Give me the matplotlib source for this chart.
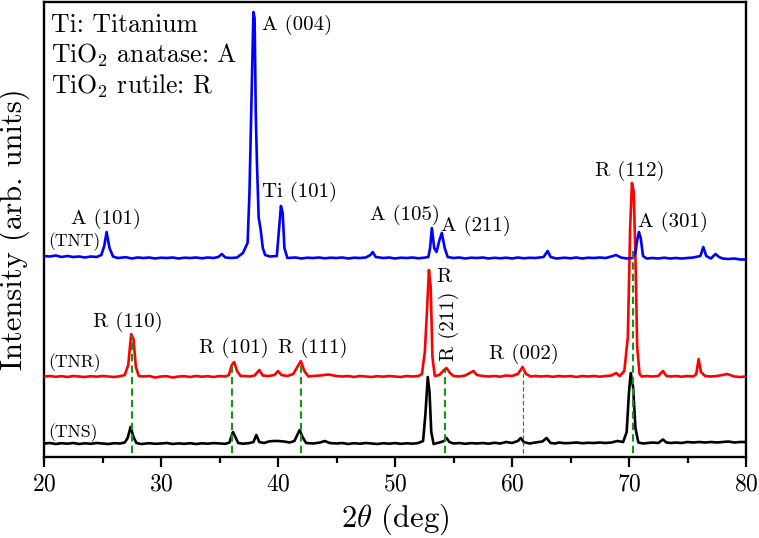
import matplotlib
matplotlib.use("Agg")
import matplotlib.pyplot as plt

plt.rcParams['font.family'] = ['cmr10', 'DejaVu Serif']
plt.rcParams['mathtext.fontset'] = 'cm'
plt.rcParams['axes.unicode_minus'] = False
plt.rcParams['axes.formatter.use_mathtext'] = True

# ---------------- data ----------------
# TNS (black) : 2theta and relative intensity (a.u.)
tns_x = [20.0, 20.5, 21.0, 21.5, 22.0, 22.5, 23.0, 23.5, 24.0, 24.5, 25.0, 25.5, 26.0, 26.5,
         26.9, 27.15, 27.4, 27.65, 27.9, 28.3, 29.0, 29.5, 30.0, 30.5, 31.0, 31.5, 32.0, 32.5,
         33.0, 33.5, 34.0, 34.5, 35.0, 35.5, 35.85, 36.0, 36.15, 36.35, 36.6, 37.0, 37.5,
         37.9, 38.15, 38.4, 38.8, 39.2, 39.6, 40.0, 40.5, 41.0, 41.4, 41.65, 41.85, 42.1,
         42.4, 43.0, 43.6, 44.0, 44.4, 45.0, 45.5, 46.0, 46.5, 47.0, 47.5, 48.0, 48.5, 49.0,
         49.5, 50.0, 50.5, 51.0, 51.5, 52.0, 52.4, 52.6, 52.8, 52.95, 53.1, 53.3, 53.8,
         54.2, 54.4, 54.65, 55.0, 55.5, 56.0, 56.5, 57.0, 57.5, 58.0, 58.5, 59.0, 59.5,
         60.0, 60.5, 60.75, 61.0, 61.5, 62.0, 62.6, 62.95, 63.3, 63.7, 64.0, 64.5, 65.0,
         65.5, 66.0, 66.5, 67.0, 67.5, 68.0, 68.5, 69.0, 69.5, 69.8, 70.0, 70.15, 70.35,
         70.55, 70.8, 71.2, 71.6, 72.0, 72.5, 72.9, 73.2, 73.6, 74.0, 74.5, 75.0, 75.5,
         76.0, 76.5, 77.0, 77.5, 78.0, 78.5, 79.0, 79.5, 80.0]
tns_y = [0.5, 1.0, 0.0, 0.8, 0.3, 1.0, 0.0, 0.7, 0.2, 1.0, 0.5, 0.0, 0.8, 0.5,
         1.5, 6.0, 17.0, 7.0, 1.0, 0.0, 0.8, 0.2, 0.5, 1.0, 0.0, 0.6, 0.2, 0.8,
         0.0, 0.7, 0.3, 0.9, 0.5, 0.2, 1.5, 7.0, 12.0, 7.0, 1.0, 0.3, 0.8,
         2.0, 9.0, 2.0, 1.0, 2.5, 3.0, 3.0, 2.5, 1.5, 3.0, 9.0, 14.0, 7.0,
         1.0, 0.5, 1.5, 3.0, 1.0, 0.5, 1.0, 0.0, 0.8, 0.3, 1.0, 0.5, 0.0, 0.8,
         0.3, 0.9, 0.2, 0.7, 0.3, 1.0, 3.0, 30.0, 67.0, 52.0, 12.0, 0.0, 1.5,
         3.0, 6.0, 2.0, 0.5, 1.0, 0.2, 0.9, 0.5, 1.0, 0.3, 1.2, 0.5, 2.0,
         1.0, 3.0, 6.0, 2.0, 0.5, 1.5, 2.5, 6.0, 1.0, 0.5, 1.5, 0.8, 1.0,
         1.5, 0.8, 1.2, 1.0, 1.5, 1.0, 1.5, 3.0, 2.0, 12.0, 52.0, 71.0, 57.0,
         16.0, 1.5, 0.5, 1.0, 1.5, 1.0, 4.5, 1.5, 1.0, 1.5, 1.0, 2.0, 1.5,
         2.0, 1.5, 2.0, 1.5, 2.0, 2.5, 1.5, 2.0, 2.0]
tns_offset = 13

# TNR (red)
tnr_x = [20.0, 20.5, 21.0, 21.5, 22.0, 22.5, 23.0, 23.5, 24.0, 24.5, 25.0, 25.5, 26.0, 26.5,
         26.9, 27.2, 27.45, 27.65, 27.85, 28.1, 28.5, 29.0, 29.5, 30.0, 30.5, 31.0, 31.5,
         32.0, 32.5, 33.0, 33.5, 34.0, 34.5, 35.0, 35.5, 35.8, 36.05, 36.25, 36.5, 36.8,
         37.2, 37.6, 38.0, 38.4, 38.7, 39.2, 39.7, 40.0, 40.3, 40.8, 41.3, 41.65, 41.95,
         42.25, 42.6, 43.0, 43.6, 44.3, 45.0, 45.5, 46.0, 46.5, 47.0, 47.5, 48.0, 48.5,
         49.0, 49.5, 50.0, 50.5, 51.0, 51.5, 52.0, 52.3, 52.55, 52.75, 52.9, 53.05, 53.2,
         53.4, 53.8, 54.1, 54.4, 54.7, 55.0, 55.5, 56.0, 56.4, 56.7, 57.0, 57.5, 58.0,
         58.5, 59.0, 59.5, 60.0, 60.5, 60.9, 61.2, 61.6, 62.0, 62.5, 63.0, 63.5, 64.0,
         64.5, 65.0, 65.5, 66.0, 66.5, 67.0, 67.5, 68.0, 68.5, 68.9, 69.2, 69.6, 69.9,
         70.1, 70.25, 70.4, 70.55, 70.7, 70.9, 71.1, 71.5, 72.0, 72.5, 72.9, 73.2, 73.6,
         74.0, 74.5, 75.0, 75.5, 75.75, 75.95, 76.15, 76.5, 77.0, 77.5, 78.0, 78.4, 79.0,
         79.5, 80.0]
tnr_y = [0.5, 1.0, 0.2, 0.8, 0.0, 1.0, 0.5, 0.0, 0.8, 0.3, 1.0, 0.5, 0.0, 0.8,
         2.0, 12.0, 43.0, 38.0, 10.0, 1.0, 0.5, 1.0, -0.5, 0.5, 0.8, -0.5, 0.5,
         0.8, 0.0, 1.0, 0.3, 0.8, 0.0, 1.0, 0.5, 2.0, 12.0, 15.0, 6.0, 1.0,
         1.0, 0.5, 1.5, 7.0, 1.5, 1.0, 2.0, 6.0, 2.0, 1.0, 3.0, 10.0, 16.0,
         6.0, 0.5, 1.0, 1.5, 2.5, 1.0, 0.5, 1.0, 0.0, 1.0, 0.5, 0.0, 0.8,
         0.3, 1.0, 0.5, 0.0, 1.0, 0.5, 1.0, 3.0, 25.0, 70.0, 107.0, 90.0, 20.0,
         1.0, 2.0, 6.0, 9.0, 4.0, 1.0, 0.5, 1.5, 4.0, 6.0, 2.0, 1.0, 0.5,
         1.0, 0.3, 1.5, 1.0, 3.0, 10.0, 3.0, 0.5, 1.0, 0.5, 1.0, 0.2, 1.0,
         0.5, 1.0, 0.0, 1.0, 0.5, 1.0, 0.3, 1.0, 1.5, 4.0, 1.0, 6.0, 40.0,
         150.0, 194.0, 186.0, 120.0, 30.0, 3.0, 0.5, 1.0, 0.5, 1.0, 6.0, 1.0, 0.5,
         1.0, 0.3, 1.0, 0.5, 3.0, 18.0, 5.0, 1.0, 0.5, 1.0, 2.0, 3.0, 0.5,
         0.0, 0.5]
tnr_offset = 80

# TNT (blue)
tnt_x = [20.0, 20.5, 21.0, 21.5, 22.0, 22.5, 23.0, 23.5, 24.0, 24.5, 24.9, 25.15, 25.35,
         25.6, 25.9, 26.3, 27.0, 27.5, 28.0, 28.5, 29.0, 29.5, 30.0, 30.5, 31.0, 31.5,
         32.0, 32.5, 33.0, 33.5, 34.0, 34.5, 34.9, 35.2, 35.5, 36.0, 36.5, 37.0, 37.4,
         37.56, 37.73, 37.9, 38.0, 38.1, 38.2, 38.35, 38.5, 38.7, 38.9, 39.3, 39.9, 40.1,
         40.25, 40.4, 40.55, 40.8, 41.5, 42.0, 42.5, 43.0, 43.5, 44.0, 44.5, 45.0, 45.5,
         46.0, 46.5, 47.0, 47.5, 47.9, 48.1, 48.35, 49.0, 49.5, 50.0, 50.5, 51.0, 51.5,
         52.0, 52.5, 52.85, 53.0, 53.15, 53.35, 53.55, 53.8, 54.0, 54.25, 54.5, 55.0,
         55.5, 56.0, 56.5, 57.0, 57.5, 58.0, 58.5, 59.0, 59.5, 60.0, 60.5, 61.0, 61.5,
         62.0, 62.7, 63.05, 63.3, 63.8, 64.5, 65.0, 65.5, 66.0, 66.5, 67.0, 67.5, 68.0,
         68.5, 68.9, 69.3, 69.8, 70.3, 70.55, 70.7, 70.85, 71.0, 71.2, 71.5, 72.0, 72.5,
         73.0, 73.5, 74.0, 74.5, 75.0, 75.5, 76.1, 76.35, 76.6, 77.0, 77.4, 77.7, 78.0,
         78.5, 79.0, 79.5, 80.0]
tnt_y = [2.0, 1.5, 2.5, 1.0, 2.0, 1.0, 1.5, 0.5, 1.5, 1.0, 3.0, 12.0, 26.0,
         10.0, 1.5, 0.0, 0.8, -0.5, 0.5, 0.0, 0.5, -0.5, 0.3, 0.0, 0.5, -0.5,
         0.3, 0.0, 0.5, -0.3, 0.5, 0.0, 1.0, 4.0, 0.5, 0.0, 0.5, 5.0, 15.0,
         65.0, 158.0, 246.0, 240.0, 145.0, 95.0, 40.0, 30.0, 10.0, 3.0, 1.5, 2.0, 30.0,
         52.0, 45.0, 10.0, 0.0, 0.5, -0.5, 0.3, 0.0, 0.5, -0.3, 0.3, 0.0, 0.5,
         -0.5, 0.3, 0.0, 0.5, 3.0, 6.0, 1.0, 0.0, 0.5, -0.5, 0.3, 0.0, 0.5,
         -0.3, 0.3, 1.0, 10.0, 30.0, 10.0, 6.0, 18.0, 25.0, 10.0, 1.0, 0.0,
         0.5, -0.5, 0.3, 0.0, 0.5, -0.5, 0.2, -0.3, 0.3, -0.5, 0.5, -0.3, 0.2,
         0.0, 1.0, 7.0, 1.0, -0.5, 0.3, -0.3, 0.5, -0.5, 0.3, 0.0, 0.5, 0.0,
         1.5, 3.0, 0.5, -0.5, 0.0, 5.0, 18.0, 26.0, 20.0, 2.0, -0.5, 0.0, -0.5,
         0.3, -0.5, 0.0, -0.5, 0.0, 0.5, 2.0, 11.0, 2.0, -0.5, 4.0, 1.0, -0.5,
         -1.0, -0.5, -1.5, -1.5]
tnt_offset = 199

# reference (dashed green) lines: position, height reached
ref_pos = [27.55, 36.1, 41.95, 54.3, 60.9, 70.3]
ref_top = [122, 95, 96, 87, 89, 210]
ref_lw = [1.5, 1.5, 1.5, 1.5, 0.9, 1.5]

x_ticks = [20, 30, 40, 50, 60, 70, 80]

# ---------------- figure ----------------
fig = plt.figure(figsize=(7.59, 5.38), dpi=100)
ax = fig.add_axes([44 / 759, 1 - 457 / 538, (746 - 44) / 759, (457 - 2) / 538])

ax.plot(tns_x, [v + tns_offset for v in tns_y], color='black', lw=1.9, zorder=3)
ax.plot(tnr_x, [v + tnr_offset for v in tnr_y], color='red', lw=1.9, zorder=3)
ax.plot(tnt_x, [v + tnt_offset for v in tnt_y], color='blue', lw=1.9, zorder=3)

for p, t, w in zip(ref_pos, ref_top, ref_lw):
    ax.plot([p, p], [4, t], color='#109910', lw=w, ls=(0, (3.5, 2)), zorder=4)

ax.set_xlim(20, 80)
ax.set_ylim(0, 455)
ax.set_xticks(x_ticks)
ax.set_xticks([25, 35, 45, 55, 65, 75], minor=True)
ax.set_yticks([])
ax.tick_params(axis='x', which='major', direction='out', length=7, width=1.6,
               labelsize=17, pad=5)
ax.tick_params(axis='x', which='minor', direction='out', length=4, width=1.6)
for s in ax.spines.values():
    s.set_linewidth(1.7)

ax.set_xlabel(r'$2\theta$ (deg)', fontsize=22, labelpad=4)
ax.set_ylabel('Intensity (arb. units)', fontsize=22, labelpad=10)

# legend-like text
ax.text(20.6, 425, 'Ti: Titanium', fontsize=18.5, va='baseline')
ax.text(20.6, 394, r'TiO$_2$ anatase: A', fontsize=18.5, va='baseline')
ax.text(20.6, 363, r'TiO$_2$ rutile: R', fontsize=18.5, va='baseline')

fs = 15
ax.text(38.6, 427, 'A (004)', fontsize=fs, va='baseline')
ax.text(38.6, 260, 'Ti (101)', fontsize=fs, va='baseline')
ax.text(25.3, 233, 'A (101)', fontsize=fs, va='baseline', ha='center')
ax.text(50.85, 237, 'A (105)', fontsize=fs, va='baseline', ha='center')
ax.text(53.93, 226, 'A (211)', fontsize=fs, va='baseline')
ax.text(70.1, 281, 'R (112)', fontsize=fs, va='baseline', ha='center')
ax.text(70.8, 230, 'A (301)', fontsize=fs, va='baseline')
ax.text(27.16, 130, 'R (110)', fontsize=fs, va='baseline', ha='center')
ax.text(36.2, 104, 'R (101)', fontsize=fs, va='baseline', ha='center')
ax.text(43.0, 104, 'R (111)', fontsize=fs, va='baseline', ha='center')
ax.text(53.5, 175, 'R', fontsize=fs, va='baseline')
ax.text(54.65, 131, 'R (211)', fontsize=fs, va='center', ha='center', rotation=90)
ax.text(61.0, 98, 'R (002)', fontsize=fs, va='baseline', ha='center')

fsl = 12.7
ax.text(20.35, 211, '(TNT)', fontsize=fsl, va='baseline')
ax.text(20.35, 90, '(TNR)', fontsize=fsl, va='baseline')
ax.text(20.35, 20, '(TNS)', fontsize=fsl, va='baseline')

fig.savefig('out.png', dpi=100)
